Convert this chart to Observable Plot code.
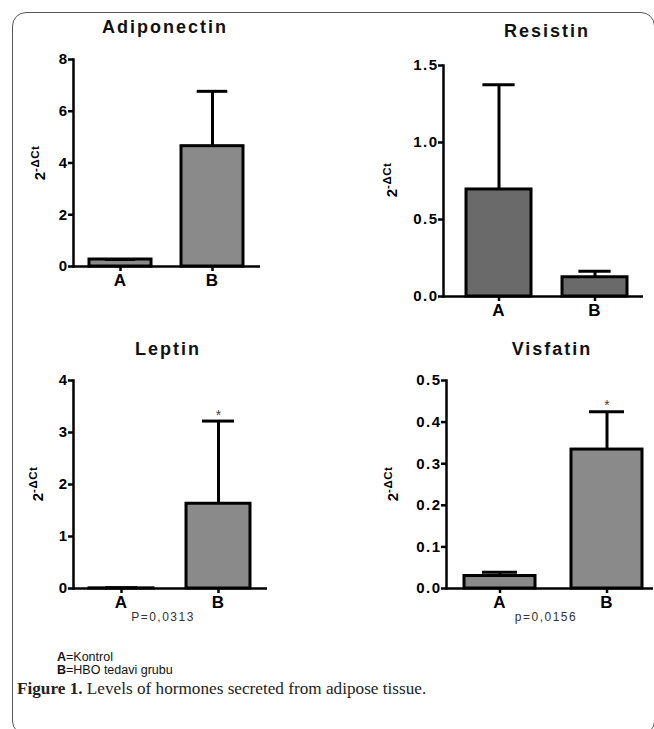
<!DOCTYPE html>
<html><head><meta charset="utf-8">
<script src="https://cdn.jsdelivr.net/npm/d3@7"></script>
<script src="https://cdn.jsdelivr.net/npm/@observablehq/plot@0.6"></script>
<style>
body{margin:0;background:#fff;width:654px;height:729px;overflow:hidden;position:relative;font-family:"Liberation Sans",Arial,sans-serif;}
#box{position:absolute;left:12px;top:12px;width:643px;height:723px;box-sizing:border-box;border:1.3px solid #555;border-radius:14px;}
.panel{position:absolute;}
.panel svg{overflow:visible;}
.title{position:absolute;width:200px;text-align:center;font-size:18px;font-weight:bold;line-height:18px;letter-spacing:2px;color:#111;}
.pval{position:absolute;width:120px;text-align:center;font-size:12px;line-height:12px;letter-spacing:1.5px;color:#333;}
#legend{position:absolute;left:57px;top:651px;font-size:12.5px;line-height:12.5px;color:#111;}
#legend div{height:12.5px;white-space:nowrap;}
#caption{position:absolute;left:17px;top:680px;font-family:"Liberation Serif","Times New Roman",serif;font-size:17.2px;line-height:17.2px;color:#222;white-space:nowrap;}
</style></head><body>
<div id="box"></div>
<div class="title" style="left:65px;top:18px">Adiponectin</div>
<div class="title" style="left:447px;top:22px">Resistin</div>
<div class="title" style="left:68px;top:340px">Leptin</div>
<div class="title" style="left:452px;top:340px">Visfatin</div>
<div class="pval" style="left:103px;top:611px">P=0,0313</div>
<div class="pval" style="left:486px;top:611px">p=0,0156</div>
<div id="legend"><div><b>A</b>=Kontrol</div><div><b>B</b>=HBO tedavi grubu</div></div>
<div id="caption"><b>Figure 1.</b> Levels of hormones secreted from adipose tissue.</div>
<div id="p1" class="panel" style="left:0;top:0"></div>
<div id="p2" class="panel" style="left:327px;top:0"></div>
<div id="p3" class="panel" style="left:0;top:330px"></div>
<div id="p4" class="panel" style="left:327px;top:330px"></div>
<script>
// ---- data ----
const groups = ["A", "B"];
const adiponectinMean = [0.27, 4.65];
const adiponectinErr  = [0.0, 2.12];
const adiponectinStar = ["", ""];
const resistinMean = [0.695, 0.125];
const resistinErr  = [0.68, 0.039];
const resistinStar = ["", ""];
const leptinMean = [0.003, 1.63];
const leptinErr  = [0.012, 1.59];
const leptinStar = ["", "*"];
const visfatinMean = [0.030, 0.334];
const visfatinErr  = [0.009, 0.091];
const visfatinStar = ["", "*"];
const adiponectinTicks = [0, 2, 4, 6, 8];
const resistinTicks = [0, 0.5, 1.0, 1.5];
const leptinTicks = [0, 1, 2, 3, 4];
const visfatinTicks = [0, 0.1, 0.2, 0.3, 0.4, 0.5];
const yLabelBase = "2";
const yLabelSup = "-\u0394Ct";

function panel(el, cfg) {
  const data = groups.map((g, i) => ({g, mean: cfg.mean[i], err: cfg.err[i], star: cfg.star[i]}));
  const plotW = cfg.width - cfg.marginLeft - cfg.marginRight;
  const step = plotW / (groups.length - cfg.pi + 2 * cfg.po);
  const bw = step * (1 - cfg.pi);
  const inset = bw / 4;
  const chart = Plot.plot({
    width: cfg.width, height: cfg.height,
    marginLeft: cfg.marginLeft, marginRight: cfg.marginRight,
    marginTop: cfg.marginTop, marginBottom: cfg.marginBottom,
    style: {fontFamily: "'Liberation Sans', Arial, sans-serif", fontWeight: "bold", color: "black", background: "transparent", overflow: "visible"},
    x: {domain: groups, paddingInner: cfg.pi, paddingOuter: cfg.po, align: cfg.align, label: null},
    y: {domain: [cfg.ticks[0], cfg.ticks[cfg.ticks.length - 1]], label: null},
    marks: [
      Plot.barY(data, {x: "g", y: "mean", fill: cfg.fill, stroke: "black", strokeWidth: 3}),
      Plot.ruleX(data, {x: "g", y1: "mean", y2: d => d.mean + d.err, stroke: "black", strokeWidth: 3}),
      Plot.tickY(data, {x: "g", y: d => d.mean + d.err, stroke: "black", strokeWidth: 3, insetLeft: inset, insetRight: inset}),
      Plot.text(data.filter(d => d.star), {x: "g", y: d => d.mean + d.err, text: "star", dy: -6, fontSize: 14, fontWeight: "normal", fill: "#444"}),
      Plot.axisY({ticks: cfg.ticks, tickFormat: cfg.fmt, tickSize: 5, tickPadding: 0, strokeWidth: 2.5, fontSize: 15, label: null}),
      Plot.axisX({tickSize: 5, tickPadding: 2, strokeWidth: 2.5, fontSize: 16, label: null}),
      Plot.frame({anchor: "left", strokeWidth: 2.5}),
      Plot.ruleY([0], {strokeWidth: 2.5})
    ]
  });
  const svg = d3.select(chart);
  svg.selectAll('g[aria-label="y-axis tick label"]').attr("font-size", 15).attr("letter-spacing", "1.5px");
  svg.selectAll('g[aria-label="x-axis tick label"]').attr("font-size", 17).attr("letter-spacing", "1px");
  const t = svg.append("text")
    .attr("transform", `translate(${cfg.labelX},${cfg.labelY}) rotate(-90)`)
    .attr("text-anchor", "middle").attr("font-weight", "bold").attr("fill", "black");
  t.append("tspan").attr("font-size", 15).text(yLabelBase);
  t.append("tspan").attr("font-size", 11.5).attr("dy", -6).attr("letter-spacing", "0.5px").text(yLabelSup);
  document.getElementById(el).appendChild(chart);
}

panel("p1", {mean: adiponectinMean, err: adiponectinErr, star: adiponectinStar, ticks: adiponectinTicks, fmt: d3.format("d"),
  fill: "#8a8a8a", width: 327, height: 300, marginLeft: 73, marginRight: 67, marginTop: 59, marginBottom: 34,
  pi: 0.323, po: 0.167, align: 0.5, labelX: 45, labelY: 163});
panel("p2", {mean: resistinMean, err: resistinErr, star: resistinStar, ticks: resistinTicks, fmt: d3.format(".1f"),
  fill: "#6a6a6a", width: 327, height: 330, marginLeft: 116, marginRight: 11, marginTop: 65, marginBottom: 34,
  pi: 0.321, po: 0.197, align: 0.605, labelX: 70, labelY: 180});
panel("p3", {mean: leptinMean, err: leptinErr, star: leptinStar, ticks: leptinTicks, fmt: d3.format("d"),
  fill: "#8a8a8a", width: 327, height: 290, marginLeft: 73, marginRight: 60, marginTop: 50, marginBottom: 32,
  pi: 0.34, po: 0.17, align: 0.5, labelX: 43, labelY: 154});
panel("p4", {mean: visfatinMean, err: visfatinErr, star: visfatinStar, ticks: visfatinTicks, fmt: d3.format(".1f"),
  fill: "#8a8a8a", width: 327, height: 290, marginLeft: 119, marginRight: 1, marginTop: 50, marginBottom: 32,
  pi: 0.333, po: 0.125, align: 0.63, labelX: 71, labelY: 154});
</script>
</body></html>
